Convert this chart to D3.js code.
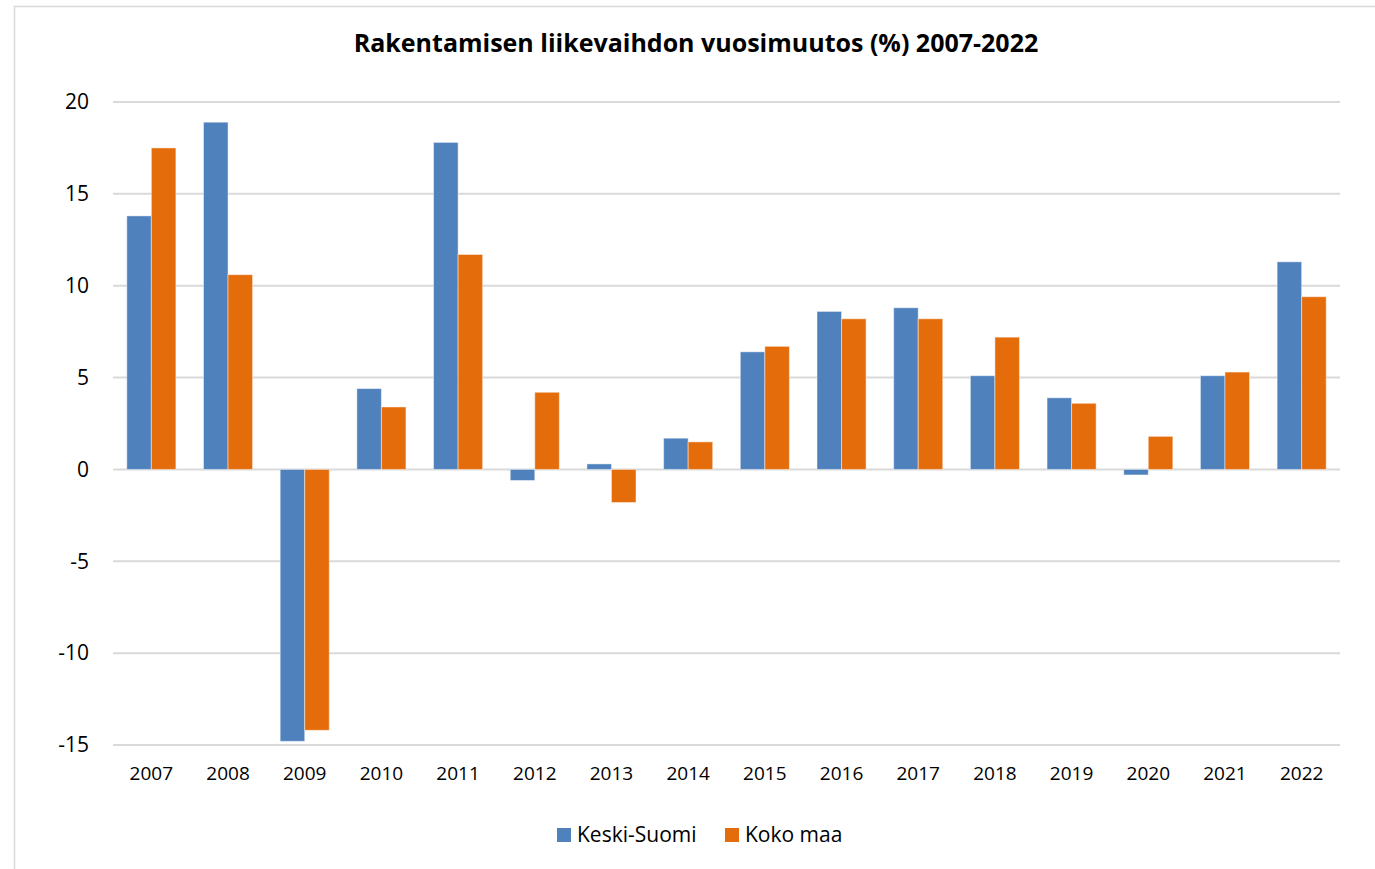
<!DOCTYPE html>
<html>
<head>
<meta charset="utf-8">
<script src="https://cdn.jsdelivr.net/npm/d3@7"></script>
<style>
  body { margin: 0; background: #fff; }
  svg text { font-family: "Open Sans", "Liberation Sans", sans-serif; fill: #000; }
</style>
</head>
<body>
<svg id="chart" width="1375" height="869"></svg>
<script>
var years = ["2007", "2008", "2009", "2010", "2011", "2012", "2013", "2014",
             "2015", "2016", "2017", "2018", "2019", "2020", "2021", "2022"];
var keskiSuomi = [13.8, 18.9, -14.8, 4.4, 17.8, -0.6, 0.3, 1.7, 6.4, 8.6, 8.8, 5.1, 3.9, -0.3, 5.1, 11.3];
var kokoMaa = [17.5, 10.6, -14.2, 3.4, 11.7, 4.2, -1.8, 1.5, 6.7, 8.2, 8.2, 7.2, 3.6, 1.8, 5.3, 9.4];
var seriesNames = ["Keski-Suomi", "Koko maa"];
var yTicks = [-15, -10, -5, 0, 5, 10, 15, 20];

var colors = ["#4f81bd", "#e46c0a"];

var svg = d3.select("#chart");

// outer chart frame (runs off the right and bottom edge)
svg.append("rect")
    .attr("x", 14.5)
    .attr("y", 6.5)
    .attr("width", 1400)
    .attr("height", 900)
    .attr("fill", "none")
    .attr("stroke", "#d9d9d9")
    .attr("stroke-width", 1.5);

var margin = {left: 113, right: 1340, top: 102, bottom: 745};

var x = d3.scaleBand()
    .domain(years)
    .range([margin.left, margin.right])
    .paddingInner(0.36)
    .paddingOuter(0.18);

var x1 = d3.scaleBand()
    .domain(seriesNames)
    .range([0, x.bandwidth()]);

var y = d3.scaleLinear()
    .domain([-15, 20])
    .range([margin.bottom, margin.top]);

// gridlines
svg.append("g")
    .selectAll("line")
    .data(yTicks)
  .enter().append("line")
    .attr("x1", margin.left)
    .attr("x2", margin.right)
    .attr("y1", function(d) { return y(d); })
    .attr("y2", function(d) { return y(d); })
    .attr("stroke", "#d9d9d9")
    .attr("stroke-width", 2);

// y labels
svg.append("g")
    .selectAll("text")
    .data(yTicks)
  .enter().append("text")
    .attr("x", 89)
    .attr("y", function(d) { return y(d); })
    .attr("dy", "0.35em")
    .attr("text-anchor", "end")
    .style("font-size", "21px")
    .text(function(d) { return d; });

var rows = years.map(function(yr, i) {
  return {year: yr, values: [keskiSuomi[i], kokoMaa[i]]};
});

var groups = svg.append("g")
    .selectAll("g")
    .data(rows)
  .enter().append("g")
    .attr("transform", function(d) { return "translate(" + x(d.year) + ",0)"; });

groups.selectAll("rect")
    .data(function(d) {
      return d.values.map(function(v, j) { return {name: seriesNames[j], value: v, idx: j}; });
    })
  .enter().append("rect")
    .attr("x", function(d) { return x1(d.name); })
    .attr("width", x1.bandwidth())
    .attr("y", function(d) { return y(Math.max(0, d.value)); })
    .attr("height", function(d) { return Math.abs(y(d.value) - y(0)); })
    .attr("fill", function(d) { return colors[d.idx]; })
    .attr("stroke", "#fff")
    .attr("stroke-opacity", 0.45)
    .attr("stroke-width", 1);

// x labels
svg.append("g")
    .selectAll("text")
    .data(years)
  .enter().append("text")
    .attr("x", function(d) { return x(d) + x.bandwidth() / 2; })
    .attr("y", 780)
    .attr("text-anchor", "middle")
    .style("font-size", "19px")
    .text(function(d) { return d; });

// title
svg.append("text")
    .attr("x", 696)
    .attr("y", 52)
    .attr("text-anchor", "middle")
    .style("font-size", "25px")
    .style("font-weight", "bold")
    .text("Rakentamisen liikevaihdon vuosimuutos (%) 2007-2022");

// legend
var legendX = [557, 725];
var legend = svg.append("g")
    .selectAll("g")
    .data(seriesNames)
  .enter().append("g")
    .attr("transform", function(d, i) { return "translate(" + legendX[i] + ",828)"; });

legend.append("rect")
    .attr("width", 14)
    .attr("height", 14)
    .attr("fill", function(d, i) { return colors[i]; });

legend.append("text")
    .attr("x", 20)
    .attr("y", 7)
    .attr("dy", "0.35em")
    .style("font-size", "21px")
    .text(function(d) { return d; });
</script>
</body>
</html>
